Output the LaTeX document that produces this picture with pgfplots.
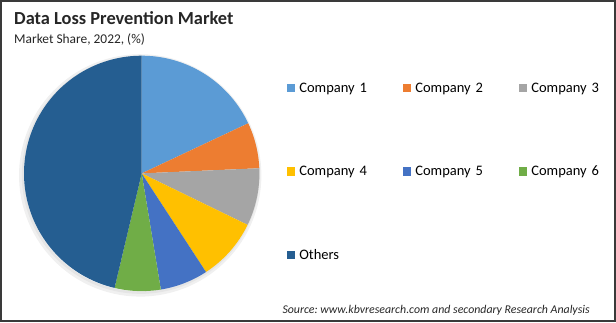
\documentclass[border=0pt]{standalone}
\usepackage{pgfplots}
\pgfplotsset{compat=1.18}
\usepackage{fontspec}
\setmainfont{Carlito}
\frenchspacing
\definecolor{c1}{HTML}{5B9BD5}
\definecolor{c2}{HTML}{ED7D31}
\definecolor{c3}{HTML}{A5A5A5}
\definecolor{c4}{HTML}{FFC000}
\definecolor{c5}{HTML}{4472C4}
\definecolor{c6}{HTML}{70AD47}
\definecolor{c7}{HTML}{255E91}
\definecolor{frame}{HTML}{3A3A3A}
% market shares (%)
\def\sA{18.0}\def\sB{6.3}\def\sC{7.9}\def\sD{8.6}\def\sE{6.6}\def\sF{6.3}\def\sG{46.3}
\pgfmathsetmacro\aO{90}
\pgfmathsetmacro\aA{\aO-3.6*\sA}
\pgfmathsetmacro\aB{\aA-3.6*\sB}
\pgfmathsetmacro\aC{\aB-3.6*\sC}
\pgfmathsetmacro\aD{\aC-3.6*\sD}
\pgfmathsetmacro\aE{\aD-3.6*\sE}
\pgfmathsetmacro\aF{\aE-3.6*\sF}
\pgfmathsetmacro\aG{\aF-3.6*\sG}
\def\cx{141.7}\def\cy{148.6}\def\R{117.7}
\newcommand\slice[3]{%
  \addplot[fill=#1, draw=none, domain=#3:#2, samples=90, variable=\t]
    ({\cx+\R*cos(\t)},{\cy+\R*sin(\t)}) -- (axis cs:\cx,\cy) -- cycle;}
\begin{document}
\begin{tikzpicture}
\begin{axis}[
  width=616pt, height=322pt, scale only axis,
  xmin=0, xmax=616, ymin=0, ymax=322,
  hide axis, clip=false,
  legend columns=3,
  legend image code/.code={\fill[#1] (0pt,0pt) rectangle (8.5pt,8.5pt);},
  legend style={at={(axis cs:286.7,240)}, anchor=north west, draw=none, fill=none,
    inner sep=0pt, outer sep=0pt, row sep=72.1pt,
    nodes={inner sep=0pt, anchor=base west},
    font=\fontsize{14.5}{17}\selectfont,
    /tikz/every odd column/.append style={column sep=4.1pt},
    /tikz/every even column/.append style={text width=103.4pt, align=left, text height=10pt, text depth=3pt}},
]
% soft shadow
\addplot[draw=black!6, line width=5pt, domain=0:360, samples=120, variable=\t, forget plot]
  ({\cx-1.5+(\R+1)*cos(\t)},{\cy-2+(\R+1)*sin(\t)});
\addplot[draw=black!10, line width=2.5pt, domain=0:360, samples=120, variable=\t, forget plot]
  ({\cx-1+(\R)*cos(\t)},{\cy-1.5+(\R)*sin(\t)});
\slice{c1}{\aO}{\aA}\addlegendentry{Company 1}
\slice{c2}{\aA}{\aB}\addlegendentry{Company 2}
\slice{c3}{\aB}{\aC}\addlegendentry{Company 3}
\slice{c4}{\aC}{\aD}\addlegendentry{Company 4}
\slice{c5}{\aD}{\aE}\addlegendentry{Company 5}
\slice{c6}{\aE}{\aF}\addlegendentry{Company 6}
\slice{c7}{\aF}{\aG}\addlegendentry{Others}
\node[inner sep=0pt, anchor=base west, font=\fontsize{18.4}{21}\selectfont\bfseries, text=black!85] at (axis cs:14,297) {Data Loss Prevention Market};
\node[inner sep=0pt, anchor=base west, font=\fontsize{13.4}{16}\selectfont, text=black!85] at (axis cs:14,278.7) {Market Share, 2022, (\%)};
\node[inner sep=0pt, anchor=base west, font=\fontsize{11.85}{14}\selectfont\itshape, text=black!85] at (axis cs:282.3,9) {Source: www.kbvresearch.com and secondary Research Analysis};
\draw[frame, line width=2pt] (axis cs:1,1) rectangle (axis cs:615,321);
\coordinate (bl) at (axis cs:0,0);
\coordinate (tr) at (axis cs:616,322);
\end{axis}
\pgfresetboundingbox
\path[use as bounding box] (bl) rectangle (tr);
\end{tikzpicture}
\end{document}
